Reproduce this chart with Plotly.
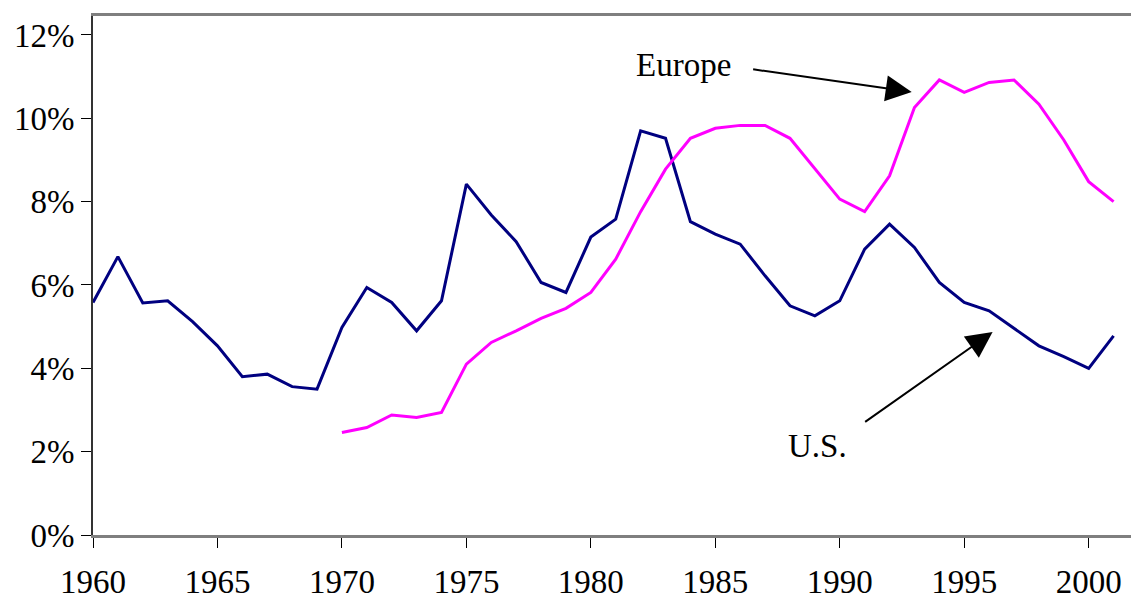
import plotly.graph_objects as go

years_us = list(range(1960, 2002))
us = [5.58, 6.68, 5.57, 5.62, 5.12, 4.54, 3.80, 3.86, 3.56, 3.50,
      4.98, 5.94, 5.58, 4.90, 5.62, 8.42, 7.68, 7.04, 6.06, 5.82,
      7.15, 7.58, 9.70, 9.52, 7.52, 7.22, 6.98, 6.22, 5.50, 5.26,
      5.62, 6.86, 7.46, 6.90, 6.06, 5.58, 5.38, 4.96, 4.54, 4.28,
      4.00, 4.78]

years_eu = list(range(1970, 2002))
europe = [2.46, 2.58, 2.88, 2.82, 2.94, 4.10, 4.62, 4.90, 5.20, 5.44,
          5.82, 6.62, 7.76, 8.78, 9.52, 9.76, 9.83, 9.83, 9.52, 8.78,
          8.06, 7.76, 8.62, 10.26, 10.92, 10.62, 10.86, 10.92, 10.34, 9.48,
          8.48, 8.00]

x_ticks = [1960, 1965, 1970, 1975, 1980, 1985, 1990, 1995, 2000]
y_ticks = [0, 2, 4, 6, 8, 10, 12]

FONT = "Liberation Serif, Times New Roman, serif"

fig = go.Figure()
fig.add_trace(go.Scatter(x=years_us, y=us, mode="lines", name="U.S.",
                         line=dict(color="#000080", width=3)))
fig.add_trace(go.Scatter(x=years_eu, y=europe, mode="lines", name="Europe",
                         line=dict(color="#FF00FF", width=3)))

fig.update_layout(
    width=1131, height=599,
    margin=dict(l=93, r=0, t=16, b=64),
    paper_bgcolor="white", plot_bgcolor="white",
    showlegend=False,
    font=dict(family=FONT, size=33, color="black"),
)
fig.update_xaxes(
    range=[1960, 2001.7], tickvals=x_ticks, ticktext=[str(v) for v in x_ticks],
    showgrid=False, zeroline=False,
    showline=True, linecolor="#7f7f7f", linewidth=2.5, mirror=True,
    ticks="outside", ticklen=10, tickwidth=1, tickcolor="black",
    tickfont=dict(family=FONT, size=33, color="black"),
    ticklabelstandoff=6,
)
fig.update_yaxes(
    range=[0, 12.455], tickvals=y_ticks, ticktext=[f"{v}%" for v in y_ticks],
    showgrid=False, zeroline=False,
    showline=True, linecolor="#333333", linewidth=2,
    ticks="outside", ticklen=10, tickwidth=1, tickcolor="black",
    tickfont=dict(family=FONT, size=33, color="black"),
)

fig.add_annotation(x=1983.73, y=11.28, text="Europe", showarrow=False,
                   font=dict(family=FONT, size=33, color="black"))
fig.add_annotation(x=1989.11, y=2.14, text="U.S.", showarrow=False,
                   font=dict(family=FONT, size=33, color="black"))

fig.add_annotation(x=1992.89, y=10.63, ax=1986.46, ay=11.18, axref="x", ayref="y",
                   text="", showarrow=True, arrowhead=2, arrowsize=2.6,
                   arrowwidth=2, arrowcolor="black", standoff=0)
fig.add_annotation(x=1996.14, y=4.87, ax=1990.96, ay=2.69, axref="x", ayref="y",
                   text="", showarrow=True, arrowhead=2, arrowsize=2.6,
                   arrowwidth=2, arrowcolor="black", standoff=0)

fig.write_html("out.html",
               config={"displayModeBar": False},
               post_script="document.body.style.margin='0px';document.body.style.overflow='hidden';")
